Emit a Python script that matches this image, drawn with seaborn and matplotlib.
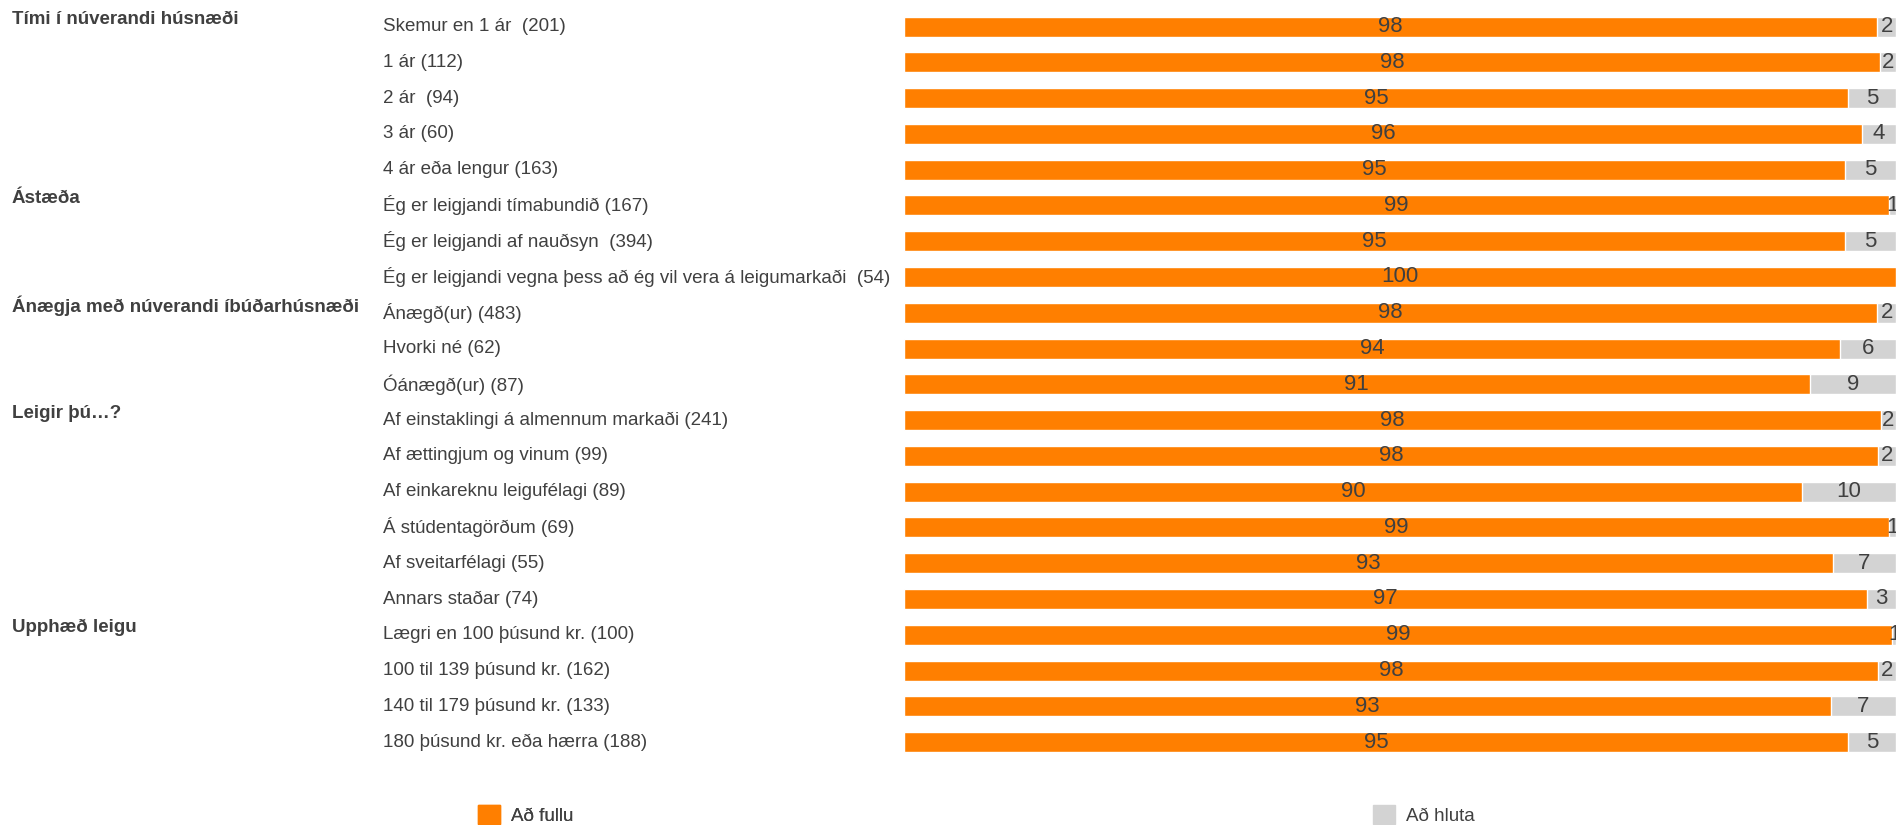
import matplotlib
matplotlib.use("Agg")
import matplotlib.pyplot as plt
import matplotlib.transforms as mtransforms
from matplotlib.patches import Patch
import seaborn as sns
import pandas as pd

categories = [
    "Skemur en 1 ár  (201)",
    "1 ár (112)",
    "2 ár  (94)",
    "3 ár (60)",
    "4 ár eða lengur (163)",
    "Ég er leigjandi tímabundið (167)",
    "Ég er leigjandi af nauðsyn  (394)",
    "Ég er leigjandi vegna þess að ég vil vera á leigumarkaði  (54)",
    "Ánægð(ur) (483)",
    "Hvorki né (62)",
    "Óánægð(ur) (87)",
    "Af einstaklingi á almennum markaði (241)",
    "Af ættingjum og vinum (99)",
    "Af einkareknu leigufélagi (89)",
    "Á stúdentagörðum (69)",
    "Af sveitarfélagi (55)",
    "Annars staðar (74)",
    "Lægri en 100 þúsund kr. (100)",
    "100 til 139 þúsund kr. (162)",
    "140 til 179 þúsund kr. (133)",
    "180 þúsund kr. eða hærra (188)",
]
# bar lengths
ad_fullu = [98.1, 98.4, 95.2, 96.6, 94.9, 99.3, 94.9, 100.0, 98.1, 94.4, 91.3,
            98.5, 98.2, 90.5, 99.3, 93.6, 97.1, 99.6, 98.2, 93.4, 95.2]
ad_hluta = [1.9, 1.6, 4.8, 3.4, 5.1, 0.7, 5.1, 0.0, 1.9, 5.6, 8.7,
            1.5, 1.8, 9.5, 0.7, 6.4, 2.9, 0.4, 1.8, 6.6, 4.8]
# printed labels
lab_fullu = [98, 98, 95, 96, 95, 99, 95, 100, 98, 94, 91, 98, 98, 90, 99, 93, 97, 99, 98, 93, 95]
lab_hluta = [2, 2, 5, 4, 5, 1, 5, 0, 2, 6, 9, 2, 2, 10, 1, 7, 3, 1, 2, 7, 5]

groups = {
    0: "Tími í núverandi húsnæði",
    5: "Ástæða",
    8: "Ánægja með núverandi íbúðarhúsnæði",
    11: "Leigir þú…?",
    17: "Upphæð leigu",
}

ORANGE = "#FF7F00"
GREY = "#D3D3D3"
TXT = "#404040"

sns.set_theme(style="white")
plt.rcParams["font.family"] = ["Liberation Sans", "DejaVu Sans"]

df = pd.DataFrame({
    "cat": categories,
    "fullu": ad_fullu,
    "total": [a + b for a, b in zip(ad_fullu, ad_hluta)],
})

fig = plt.figure(figsize=(18.96, 8.25), dpi=100)
ax = fig.add_axes([0.4768, 0.0788, 0.5232, 0.9107])

sns.barplot(data=df, x="total", y="cat", color=GREY, orient="h", width=0.56,
            saturation=1, ax=ax)
sns.barplot(data=df, x="fullu", y="cat", color=ORANGE, orient="h", width=0.56,
            saturation=1, ax=ax)

ax.set_xlim(0, 100)
ax.set_ylim(len(categories) - 0.5, -0.5)
ax.set_xlabel("")
ax.set_ylabel("")
ax.set_xticks([])
ax.set_yticks([])
for s in ax.spines.values():
    s.set_visible(False)

# value labels
for i in range(len(categories)):
    ax.text(ad_fullu[i] / 2, i, str(lab_fullu[i]), ha="center", va="center",
            fontsize=16, color=TXT)
    if lab_hluta[i] > 0:
        ax.text(ad_fullu[i] + ad_hluta[i] / 2, i, str(lab_hluta[i]), ha="center",
                va="center", fontsize=16, color=TXT, clip_on=False)

# category and group labels on the left
trans = mtransforms.blended_transform_factory(fig.transFigure, ax.transData)
for i, c in enumerate(categories):
    ax.text(383 / 1896, i, c, transform=trans, ha="left", va="center",
            fontsize=13.5, color=TXT)
for i, g in groups.items():
    ax.annotate(g, xy=(12 / 1896, i), xycoords=trans, xytext=(0, 5),
                textcoords="offset points", ha="left", va="center",
                fontsize=13.5, fontweight="bold", color=TXT)

# legend, two separate entries far apart
leg_kw = dict(frameon=False, fontsize=13.5, handlelength=1.2, handleheight=1.2,
              handletextpad=0.6, labelcolor=TXT, borderaxespad=0)
l1 = fig.legend(handles=[Patch(color=ORANGE, label="Að fullu")], loc="center left",
                bbox_to_anchor=(470 / 1896, 1 - 815 / 825), **leg_kw)
fig.legend(handles=[Patch(color=GREY, label="Að hluta")], loc="center left",
           bbox_to_anchor=(1365 / 1896, 1 - 815 / 825), **leg_kw)
fig.add_artist(l1)

fig.savefig("out.png", dpi=100)
